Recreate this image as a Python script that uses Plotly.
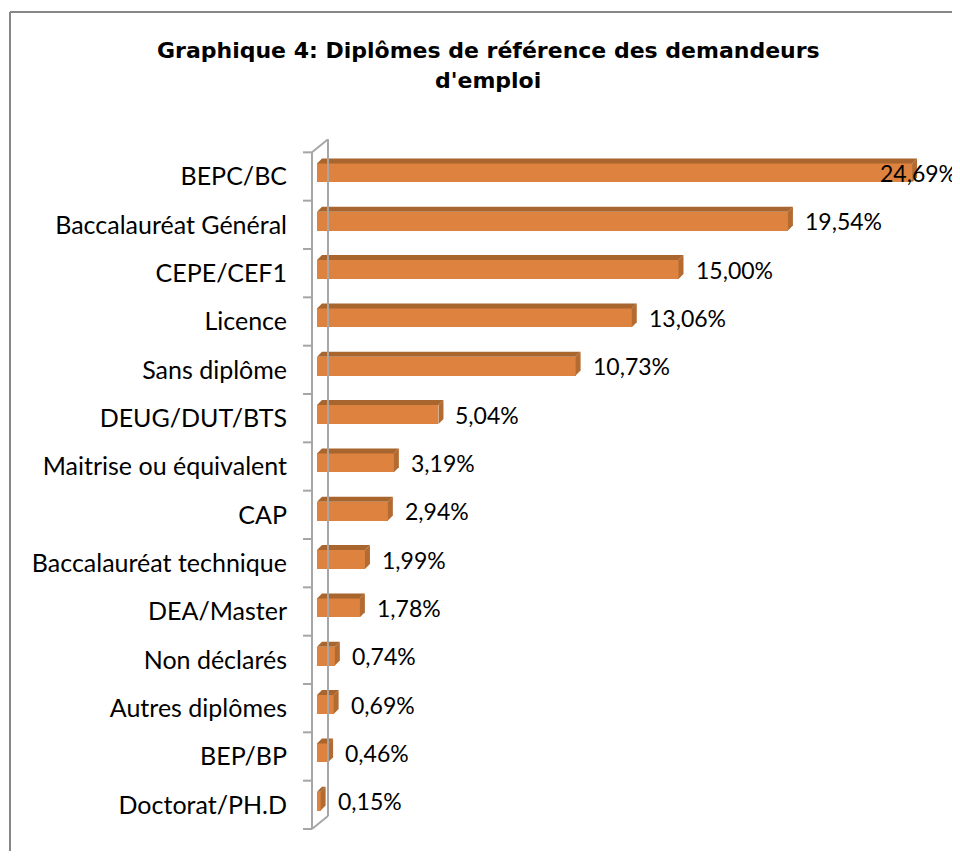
import plotly.graph_objects as go

categories = ["BEPC/BC", "Baccalauréat Général", "CEPE/CEF1", "Licence", "Sans diplôme",
              "DEUG/DUT/BTS", "Maitrise ou équivalent", "CAP", "Baccalauréat technique",
              "DEA/Master", "Non déclarés", "Autres diplômes", "BEP/BP", "Doctorat/PH.D"]
values = [24.69, 19.54, 15.00, 13.06, 10.73, 5.04, 3.19, 2.94, 1.99, 1.78, 0.74, 0.69, 0.46, 0.15]
labels = [f"{v:.2f}%".replace(".", ",") for v in values]
title_lines = ["Graphique 4: Diplômes de référence des demandeurs", "d'emploi"]

FRONT = "#DE833F"
TOP = "#A8652D"
SIDE = "#B36B31"

OFF = 8  # page body margin
W, H = 960 - OFF, 859 - 2 * OFF
L, R, T, B = 300 - OFF, 0, 131, 16
PW, PH = W - L - R, H - T - B
xr = [-0.705, 26.68]
yr = [13.7, -0.7]
px_x = PW / (xr[1] - xr[0])
px_y = PH / (yr[0] - yr[1])


def paper_x(px):  # px = target page pixel
    return (px - OFF - L) / PW


def paper_y(py):
    return 1 + (T - (py - OFF)) / PH


hw = 0.195           # half bar thickness (category units)
dx = 5 / px_x        # depth offset, x
dy = -5 / px_y       # depth offset, y (up)

fig = go.Figure()

for i, v in enumerate(values):
    y0, y1 = i + hw, i - hw
    fig.add_trace(go.Scatter(
        x=[0, v, v + dx, dx, 0], y=[y1, y1, y1 + dy, y1 + dy, y1],
        fill="toself", fillcolor=TOP, line=dict(width=0), mode="lines",
        hoverinfo="skip", showlegend=False))
    fig.add_trace(go.Scatter(
        x=[v, v + dx, v + dx, v, v], y=[y0, y0 + dy, y1 + dy, y1, y0],
        fill="toself", fillcolor=SIDE, line=dict(width=0), mode="lines",
        hoverinfo="skip", showlegend=False))

fig.add_trace(go.Bar(
    x=values, y=list(range(len(values))), orientation="h", width=2 * hw,
    marker=dict(color=FRONT, line=dict(width=0)), showlegend=False, hoverinfo="skip"))

for i, (v, t) in enumerate(zip(values, labels)):
    if v == max(values):
        fig.add_annotation(x=xr[1], y=i, text=t, showarrow=False, xanchor="right",
                           xshift=-1, font=dict(family="Lato", size=23, color="black"))
    else:
        fig.add_annotation(x=v + dx, y=i, text=t, showarrow=False, xanchor="left",
                           xshift=10, font=dict(family="Lato", size=23, color="black"))

# 3D wall (axis) lines
gray = "#A6A6A6"
n = len(categories)
b_top, b_bot = -0.424, n - 0.424
fx = -5 / px_x
bx = 11 / px_x
by = -13 / px_y
fig.add_shape(type="line", x0=fx, x1=fx, y0=b_top, y1=b_bot, line=dict(color=gray, width=2))
fig.add_shape(type="line", x0=bx, x1=bx, y0=b_top + by, y1=b_bot + by, line=dict(color=gray, width=2))
fig.add_shape(type="line", x0=fx, x1=bx, y0=b_top, y1=b_top + by, line=dict(color=gray, width=2))
fig.add_shape(type="line", x0=fx, x1=bx, y0=b_bot, y1=b_bot + by, line=dict(color=gray, width=2))
for k in range(n + 1):
    fig.add_shape(type="line", x0=fx - 9 / px_x, x1=fx, y0=b_top + k, y1=b_top + k,
                  line=dict(color=gray, width=2))

# chart border (top and left)
border = "#878787"
fig.add_shape(type="line", xref="paper", yref="paper", x0=paper_x(10), x1=paper_x(970),
              y0=paper_y(12), y1=paper_y(12), line=dict(color=border, width=2))
fig.add_shape(type="line", xref="paper", yref="paper", x0=paper_x(10), x1=paper_x(10),
              y0=paper_y(12), y1=paper_y(880), line=dict(color=border, width=2))

# title (two lines)
for line, py in zip(title_lines, [50, 80]):
    fig.add_annotation(xref="paper", yref="paper", x=paper_x(488), y=paper_y(py),
                       text=f"<b>{line}</b>", showarrow=False, xanchor="center", yanchor="middle",
                       font=dict(family="DejaVu Sans", size=22, color="black"))

fig.update_layout(
    width=W, height=H,
    margin=dict(l=L, r=R, t=T, b=B),
    paper_bgcolor="white", plot_bgcolor="white",
    xaxis=dict(range=xr, visible=False, fixedrange=True),
    yaxis=dict(range=yr, tickvals=[i + 0.076 for i in range(n)], ticktext=categories,
               showgrid=False, zeroline=False, showline=False, ticks="",
               ticklabelstandoff=12,
               tickfont=dict(family="Lato", size=25, color="black")),
    bargap=0,
)

fig.write_html("out.html", config={"displayModeBar": False})
